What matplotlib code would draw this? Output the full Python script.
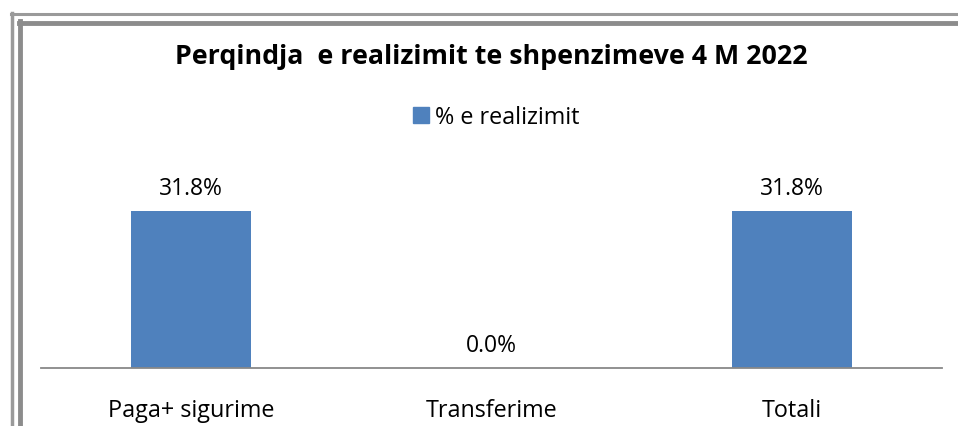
import matplotlib
matplotlib.use("Agg")
import matplotlib.pyplot as plt
from matplotlib.lines import Line2D
from matplotlib.patches import Patch

categories = ["Paga+ sigurime", "Transferime", "Totali"]
values = [31.8, 0.0, 31.8]
series_name = "% e realizimit"
title = "Perqindja  e realizimit te shpenzimeve 4 M 2022"

W, H = 958, 427
fig = plt.figure(figsize=(W / 100, H / 100), dpi=100)
fig.patch.set_facecolor("white")
plt.rcParams["font.family"] = ["Open Sans", "DejaVu Sans"]

# axes: x 41..942, baseline y=369, top y=165
ax = fig.add_axes([41 / W, (H - 369) / H, (942 - 41) / W, (369 - 165) / H])
x = list(range(len(categories)))
ax.bar(x, values, width=0.4, color="#4F81BD")
ax.set_xlim(-0.5, len(categories) - 0.5)
ax.set_ylim(0, 31.8 * 204 / 157)
for s in ["top", "right", "left"]:
    ax.spines[s].set_visible(False)
ax.spines["bottom"].set_color("#888888")
ax.spines["bottom"].set_linewidth(1.3)
ax.set_yticks([])
ax.set_xticks(x)
ax.set_xticklabels(categories, fontsize=16.8, color="black")
ax.tick_params(axis="x", length=0, pad=21.5)
for xi, v in zip(x, values):
    ax.annotate(f"{v:.1f}%", (xi, v), xytext=(0, 8), textcoords="offset points",
                ha="center", va="bottom", fontsize=16.5)

fig.text(491 / W, 1 - 57 / H, title, ha="center", va="center",
         fontsize=19.3, fontweight="bold")

leg = fig.legend(handles=[Patch(color="#4F81BD", label=series_name)],
                 loc="center", bbox_to_anchor=(496 / W, 1 - 118 / H),
                 frameon=False, fontsize=16.8, handlelength=0.7, handleheight=0.7,
                 handletextpad=0.25)

# shadow frame lines (left and top)
def vline(xp, y0, y1, lw, c):
    fig.add_artist(Line2D([xp / W, xp / W], [1 - y0 / H, 1 - y1 / H], transform=fig.transFigure, lw=lw, color=c))

def hline(yp, x0, x1, lw, c):
    fig.add_artist(Line2D([x0 / W, x1 / W], [1 - yp / H, 1 - yp / H], transform=fig.transFigure, lw=lw, color=c))

vline(12, 14, H, 2.5, "#9a9a9a")
hline(15, 11, W, 2.2, "#9a9a9a")
vline(20, 22, H, 3.5, "#8c8c8c")
hline(23.5, 19, W, 3.5, "#8c8c8c")

fig.savefig("out.png", dpi=100, facecolor="white")
